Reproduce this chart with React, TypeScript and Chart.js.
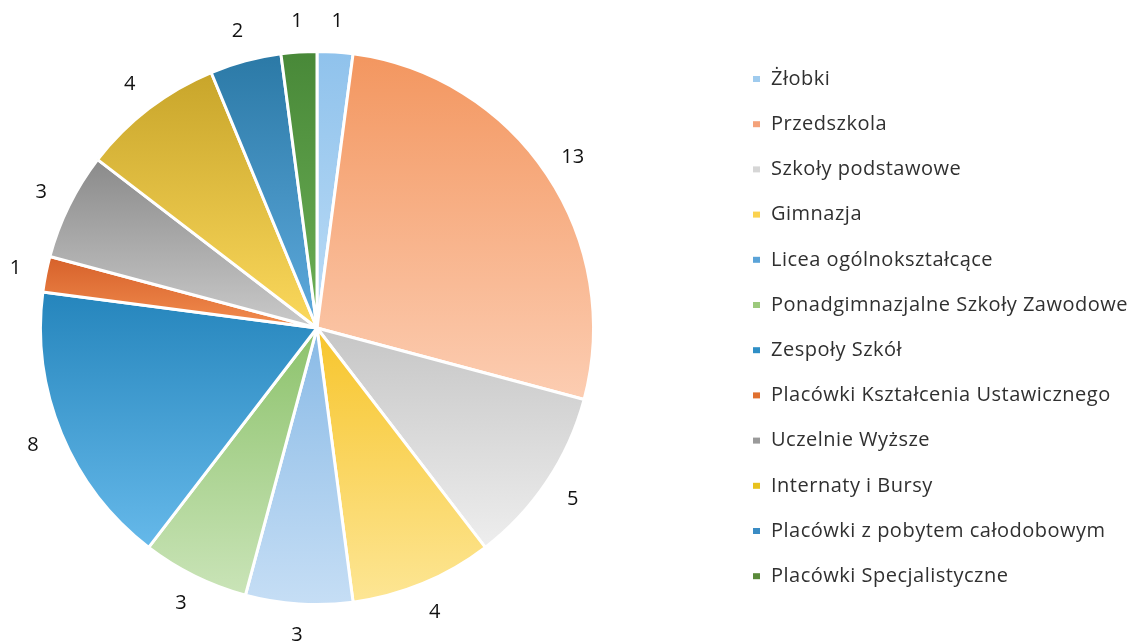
import React, { useEffect, useRef } from "react";
import { Chart, registerables } from "chart.js";

Chart.register(...registerables);

const categories = [
  "Żłobki",
  "Przedszkola",
  "Szkoły podstawowe",
  "Gimnazja",
  "Licea ogólnokształcące",
  "Ponadgimnazjalne Szkoły Zawodowe",
  "Zespoły Szkół",
  "Placówki Kształcenia Ustawicznego",
  "Uczelnie Wyższe",
  "Internaty i Bursy",
  "Placówki z pobytem całodobowym",
  "Placówki Specjalistyczne",
];

const counts = [1, 13, 5, 4, 3, 3, 8, 1, 3, 4, 2, 1];

const gradientTop = [
  "#8fc2ec", "#f3965f", "#c6c6c6", "#f7c52c", "#89bae6", "#8cc26b",
  "#2585bc", "#d6612a", "#8a8a8a", "#c8a52a", "#2b79a6", "#488838",
];
const gradientBottom = [
  "#bcdcf6", "#fccdb2", "#eeeeee", "#fde695", "#c6def5", "#cae4b8",
  "#66b9ea", "#f28c4e", "#cacaca", "#fbd85c", "#5eaadd", "#6db056",
];
const swatchColors = [
  "#9fcbee", "#f4a27a", "#d6d6d6", "#fbd24f", "#5aa3d8", "#9cc97c",
  "#2f8fc6", "#e0702f", "#9a9a9a", "#e8c21e", "#3a8cc4", "#5a8a3a",
];

function sliceGradient(c: any) {
  const chart = c.chart;
  const area = chart.chartArea;
  const i = c.dataIndex;
  if (!area || i === undefined) return gradientTop[i ?? 0];
  const cx = (area.left + area.right) / 2;
  const cy = (area.top + area.bottom) / 2;
  const R = Math.min(area.right - area.left, area.bottom - area.top) / 2;
  const total = counts.reduce((a, b) => a + b, 0);
  let before = 0;
  for (let k = 0; k < i; k++) before += counts[k];
  const a0 = -Math.PI / 2 + (before / total) * Math.PI * 2;
  const a1 = -Math.PI / 2 + ((before + counts[i]) / total) * Math.PI * 2;
  const ys = [cy, cy + R * Math.sin(a0), cy + R * Math.sin(a1)];
  for (const ext of [-Math.PI / 2, Math.PI / 2, (3 * Math.PI) / 2]) {
    if (ext >= a0 && ext <= a1) ys.push(cy + R * Math.sin(ext));
  }
  const minY = Math.min(...ys);
  const maxY = Math.max(...ys);
  const g = chart.ctx.createLinearGradient(0, minY, 0, maxY + 0.01);
  g.addColorStop(0, gradientTop[i]);
  g.addColorStop(1, gradientBottom[i]);
  return g;
}

const outsideLabels = {
  id: "outsideLabels",
  afterDatasetsDraw(chart: any, _args: any, opts: any) {
    const ctx = chart.ctx;
    const meta = chart.getDatasetMeta(0);
    const values = chart.data.datasets[0].data;
    ctx.save();
    ctx.font = opts.font;
    ctx.fillStyle = opts.color;
    ctx.textAlign = "center";
    ctx.textBaseline = "middle";
    meta.data.forEach((arc: any, i: number) => {
      const p = arc.getProps(["x", "y", "startAngle", "endAngle", "outerRadius"], true);
      const mid = (p.startAngle + p.endAngle) / 2;
      const r = p.outerRadius + opts.offset;
      ctx.fillText(String(values[i]), p.x + Math.cos(mid) * r, p.y + Math.sin(mid) * r);
    });
    ctx.restore();
  },
};

const sideLegend = {
  id: "sideLegend",
  afterDraw(chart: any, _args: any, opts: any) {
    const ctx = chart.ctx;
    const labels = chart.data.labels as string[];
    ctx.save();
    ctx.font = opts.font;
    try { (ctx as any).letterSpacing = opts.letterSpacing; } catch (e) {}
    ctx.textBaseline = "middle";
    ctx.textAlign = "left";
    labels.forEach((lab, i) => {
      const y = opts.y + i * opts.rowGap;
      ctx.fillStyle = opts.swatches[i];
      ctx.fillRect(opts.x, y - 3, 7, 6);
      ctx.fillStyle = opts.color;
      ctx.fillText(lab, opts.x + 18, y);
    });
    ctx.restore();
  },
};

export default function App() {
  const ref = useRef<HTMLCanvasElement | null>(null);
  useEffect(() => {
    document.body.style.margin = "0";
    const canvas = ref.current;
    if (!canvas) return;
    const chart = new Chart(canvas, {
      type: "pie",
      data: {
        labels: categories,
        datasets: [
          {
            data: counts,
            backgroundColor: sliceGradient as any,
            borderColor: "#ffffff",
            borderWidth: 3,
          },
        ],
      },
      options: {
        responsive: false,
        animation: false,
        layout: { padding: { top: 50, bottom: 38, left: 39, right: 535 } },
        plugins: {
          legend: { display: false },
          tooltip: { enabled: false },
          outsideLabels: { font: "20px 'Open Sans'", color: "#111111", offset: 31 },
          sideLegend: {
            x: 753,
            y: 79,
            rowGap: 45.2,
            font: "20px 'Open Sans'",
            letterSpacing: "0.5px",
            color: "#303030",
            swatches: swatchColors,
          },
        } as any,
      },
      plugins: [outsideLabels, sideLegend],
    });
    return () => chart.destroy();
  }, []);
  return (
    <div style={{ width: 1130, height: 644, background: "#ffffff" }}>
      <canvas ref={ref} width={1130} height={644} style={{ display: "block" }} />
    </div>
  );
}
